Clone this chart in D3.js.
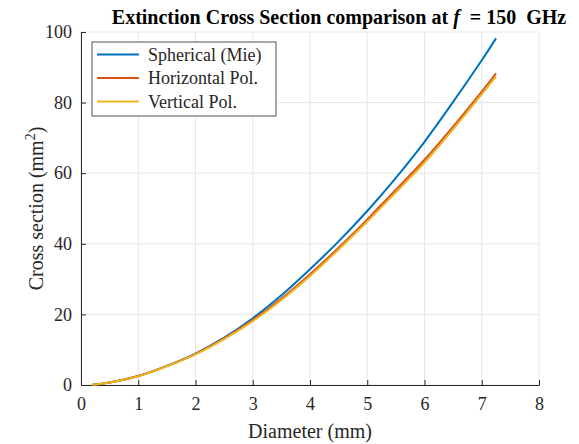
<!DOCTYPE html>
<html>
<head>
<meta charset="utf-8">
<script src="https://cdn.jsdelivr.net/npm/d3@7"></script>
<style>
  body { margin: 0; background: #fff; }
  svg { display: block; }
  svg text { font-family: "Liberation Serif", "Times New Roman", Times, "DejaVu Serif", serif !important; }
</style>
</head>
<body>
<div id="chart"></div>
<script>
// Data
const diameter = [0.2, 0.5, 1, 1.5, 2, 2.5, 3, 3.5, 4, 4.5, 5, 5.5, 6, 6.5, 7, 7.25];
const spherical = [0.05, 0.7, 2.55, 5.4, 8.9, 13.4, 18.9, 25.4, 32.8, 40.7, 49.3, 58.7, 68.9, 80.2, 92.0, 98.2];
const horizontal = [0.05, 0.7, 2.55, 5.35, 8.8, 13.2, 18.4, 24.5, 31.4, 38.9, 46.9, 55.3, 63.8, 73.2, 83.1, 88.3];
const vertical = [0.05, 0.7, 2.5, 5.3, 8.7, 13.0, 18.1, 24.1, 30.9, 38.4, 46.3, 54.6, 63.0, 72.5, 82.4, 87.4];
const seriesNames = ["Spherical (Mie)", "Horizontal Pol.", "Vertical Pol."];
const seriesColors = ["#0072BD", "#D95319", "#EDB120"];
const xTicks = [0, 1, 2, 3, 4, 5, 6, 7, 8];
const yTicks = [0, 20, 40, 60, 80, 100];

const w = 579, h = 444;
const margin = {top: 32, right: 40, bottom: 59, left: 81};
const axisColor = "#262626";

const svg = d3.select("#chart").append("svg")
  .attr("width", w)
  .attr("height", h);

const x = d3.scaleLinear().domain([0, 8]).range([margin.left, w - margin.right]);
const y = d3.scaleLinear().domain([0, 100]).range([h - margin.bottom, margin.top]);

// grid
svg.append("g").selectAll("line.gx")
  .data(xTicks)
  .enter().append("line")
  .attr("x1", d => x(d)).attr("x2", d => x(d))
  .attr("y1", y(0)).attr("y2", y(100))
  .attr("stroke", "#e6e6e6").attr("stroke-width", 1);
svg.append("g").selectAll("line.gy")
  .data(yTicks)
  .enter().append("line")
  .attr("x1", x(0)).attr("x2", x(8))
  .attr("y1", d => y(d)).attr("y2", d => y(d))
  .attr("stroke", "#e6e6e6").attr("stroke-width", 1);

// axes (ticks inward like matlab)
const xAxis = svg.append("g")
  .attr("transform", `translate(0,${y(0)})`)
  .call(d3.axisBottom(x).tickValues(xTicks).tickSizeInner(-5).tickSizeOuter(0).tickPadding(12));
const yAxis = svg.append("g")
  .attr("transform", `translate(${x(0)},0)`)
  .call(d3.axisLeft(y).tickValues(yTicks).tickSizeInner(-5).tickSizeOuter(0).tickPadding(9));

[xAxis, yAxis].forEach(a => {
  a.attr("font-family", null);
  a.select(".domain").attr("stroke", axisColor);
  a.selectAll(".tick line").attr("stroke", axisColor);
  a.selectAll(".tick text")
    .attr("fill", axisColor)
    .style("font-size", "18px");
});

// lines
const allSeries = [spherical, horizontal, vertical];
const line = d3.line()
  .x((d, i) => x(diameter[i]))
  .y(d => y(d))
  .curve(d3.curveCatmullRom);

svg.append("g").selectAll("path")
  .data(allSeries)
  .enter().append("path")
  .attr("d", d => line(d))
  .attr("fill", "none")
  .attr("stroke", (d, i) => seriesColors[i])
  .attr("stroke-width", 2);

// legend
const lg = svg.append("g").attr("transform", "translate(92,42)");
lg.append("rect")
  .attr("width", 184).attr("height", 74)
  .attr("fill", "#fff").attr("stroke", axisColor).attr("stroke-width", 0.8);
seriesNames.forEach((name, i) => {
  const yy = 12.5 + i * 23.5;
  lg.append("line")
    .attr("x1", 5).attr("x2", 47)
    .attr("y1", yy).attr("y2", yy)
    .attr("stroke", seriesColors[i]).attr("stroke-width", 2);
  lg.append("text")
    .attr("x", 56).attr("y", yy + 6)
    .attr("fill", axisColor)
    .style("font-size", "18px")
    .text(name);
});

// axis labels
svg.append("text")
  .attr("x", x(4)).attr("y", 438)
  .attr("text-anchor", "middle")
  .attr("fill", axisColor)
  .style("font-size", "20px")
  .text("Diameter (mm)");

const yl = svg.append("text")
  .attr("transform", `translate(43,${(y(0) + y(100)) / 2}) rotate(-90)`)
  .attr("text-anchor", "middle")
  .attr("fill", axisColor)
  .style("font-size", "20px");
yl.append("tspan").text("Cross section (mm");
yl.append("tspan").attr("dy", -8).style("font-size", "14px").text("2");
yl.append("tspan").attr("dy", 8).text(")");

// title
const t = svg.append("text")
  .attr("x", 339).attr("y", 24)
  .attr("text-anchor", "middle")
  .attr("fill", "#000")
  .style("font-size", "20px")
  .style("font-weight", "bold");
t.append("tspan").text("Extinction Cross Section comparison at ");
t.append("tspan").style("font-style", "italic").text("f");
t.append("tspan").attr("xml:space", "preserve").text("  = 150  GHz");
</script>
</body>
</html>
